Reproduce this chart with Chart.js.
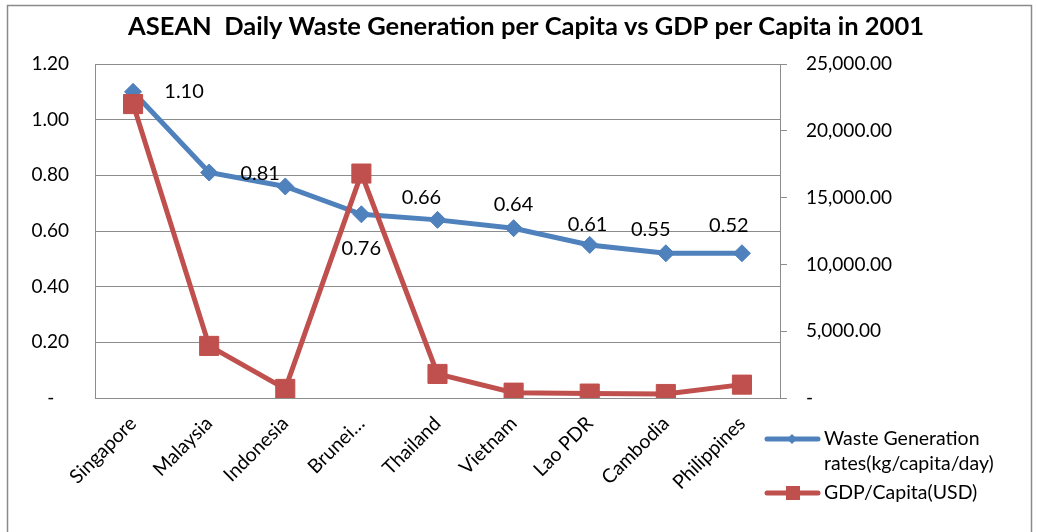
<!DOCTYPE html>
<html><head><meta charset="utf-8">
<script src="https://cdn.jsdelivr.net/npm/chart.js@4.4.0/dist/chart.umd.min.js"></script>
<style>html,body{margin:0;padding:0;background:#fff;overflow:hidden;}</style>
</head><body>
<canvas id="c" width="1037" height="532"></canvas>
<script>
// ---- data ----
const categories = ['Singapore','Malaysia','Indonesia','Brunei\u2026','Thailand','Vietnam','Lao PDR','Cambodia','Philippines'];
const wasteRates = [1.10, 0.81, 0.76, 0.66, 0.64, 0.61, 0.55, 0.52, 0.52];
const gdpPerCapita = [22000, 3900, 680, 16800, 1800, 400, 330, 300, 1000];
const wasteName = ['Waste Generation', 'rates(kg/capita/day)'];
const gdpName = ['GDP/Capita(USD)'];
const titleText = 'ASEAN  Daily Waste Generation per Capita vs GDP per Capita in 2001';
const leftRange = [0, 1.2, 0.2];
const rightRange = [0, 25000, 5000];
// label placement (offsets from point, px) as in the original
const labelOffsets = [[51,0],[51,1],[76,62],[60,-17],[76,-15],[74,-4],[61,-15],[63,-28],null];

const BLUE = '#4F81BD', RED = '#C0504D', GRID = '#8c8c8c', FONT = 'Lato';

const decor = {
  id: 'decor',
  beforeDraw(chart) {
    const ctx = chart.ctx;
    ctx.save();
    ctx.fillStyle = '#fff';
    ctx.fillRect(0, 0, chart.width, chart.height);
    ctx.strokeStyle = '#8a8a8a';
    ctx.lineWidth = 1.5;
    ctx.strokeRect(7.5, 5.5, 1024, 600);
    ctx.restore();
  },
  afterDatasetsDraw(chart) {
    const ctx = chart.ctx;
    const meta = chart.getDatasetMeta(0);
    ctx.save();
    ctx.font = '20px ' + FONT;
    ctx.fillStyle = '#000';
    ctx.textAlign = 'center';
    ctx.textBaseline = 'middle';
    meta.data.forEach((pt, i) => {
      const off = labelOffsets[i];
      if (!off) return;
      ctx.fillText(wasteRates[i].toFixed(2), pt.x + off[0], pt.y + off[1]);
    });
    ctx.restore();
  },
  afterDraw(chart) {
    const ctx = chart.ctx;
    ctx.save();
    // title
    ctx.font = 'bold 25.5px ' + FONT;
    ctx.fillStyle = '#000';
    ctx.textAlign = 'center';
    ctx.textBaseline = 'middle';
    ctx.fillText(titleText, 526, 27);
    // legend
    ctx.font = '19.5px ' + FONT;
    ctx.textAlign = 'left';
    ctx.lineCap = 'round';
    ctx.lineWidth = 5;
    // blue
    ctx.strokeStyle = BLUE;
    ctx.beginPath(); ctx.moveTo(767, 439); ctx.lineTo(818, 439); ctx.stroke();
    ctx.fillStyle = BLUE;
    ctx.beginPath(); ctx.moveTo(792, 434); ctx.lineTo(797, 439); ctx.lineTo(792, 444); ctx.lineTo(787, 439); ctx.closePath(); ctx.fill();
    ctx.fillStyle = '#000';
    ctx.fillText(wasteName[0], 824, 439);
    ctx.fillText(wasteName[1], 824, 464);
    // red
    ctx.strokeStyle = RED;
    ctx.beginPath(); ctx.moveTo(767, 493); ctx.lineTo(818, 493); ctx.stroke();
    ctx.fillStyle = RED;
    ctx.fillRect(786, 486, 14, 14);
    ctx.fillStyle = '#000';
    ctx.fillText(gdpName[0], 824, 493);
    ctx.restore();
  }
};

new Chart(document.getElementById('c'), {
  type: 'line',
  data: {
    labels: categories,
    datasets: [
      {
        label: wasteName.join(' '),
        data: wasteRates,
        yAxisID: 'y',
        borderColor: BLUE,
        backgroundColor: BLUE,
        borderWidth: 5,
        pointStyle: 'rectRot',
        pointRadius: 8.5,
        pointBorderWidth: 1,
        pointBackgroundColor: BLUE,
        pointBorderColor: BLUE,
        order: 2,
        tension: 0
      },
      {
        label: gdpName[0],
        data: gdpPerCapita,
        yAxisID: 'y1',
        borderColor: RED,
        backgroundColor: RED,
        borderWidth: 5,
        pointStyle: 'rect',
        pointRadius: 13.5,
        pointBorderWidth: 1,
        pointBackgroundColor: RED,
        pointBorderColor: RED,
        order: 1,
        tension: 0
      }
    ]
  },
  options: {
    responsive: false,
    animation: false,
    devicePixelRatio: 1,
    layout: { padding: { top: 64, left: 0, right: 0, bottom: 0 } },
    plugins: { legend: { display: false }, title: { display: false }, tooltip: { enabled: false } },
    scales: {
      x: {
        offset: true,
        grid: { display: false },
        border: { display: true, color: GRID },
        ticks: {
          autoSkip: false, minRotation: 45, maxRotation: 45,
          color: '#000', font: { family: FONT, size: 19.5 }, padding: 6
        },
        afterFit(s) { s.height = 134; }
      },
      y: {
        position: 'left',
        min: leftRange[0], max: leftRange[1],
        grid: { color: GRID, drawTicks: false },
        border: { color: GRID },
        ticks: {
          stepSize: leftRange[2], padding: 26, color: '#000',
          font: { family: FONT, size: 19 },
          callback: v => (Math.abs(v) < 1e-9 ? '-   ' : v.toFixed(2))
        },
        afterFit(s) { s.width = 95; }
      },
      y1: {
        position: 'right',
        min: rightRange[0], max: rightRange[1],
        grid: { drawOnChartArea: false, drawTicks: true, tickLength: 7, color: GRID },
        border: { color: GRID },
        ticks: {
          stepSize: rightRange[2], padding: 19, color: '#000',
          font: { family: FONT, size: 19 },
          callback: v => (v === 0 ? '-' : v.toLocaleString('en-US', { minimumFractionDigits: 2, maximumFractionDigits: 2 }))
        },
        afterFit(s) { s.width = 257; }
      }
    }
  },
  plugins: [decor]
});
</script>
</body></html>
